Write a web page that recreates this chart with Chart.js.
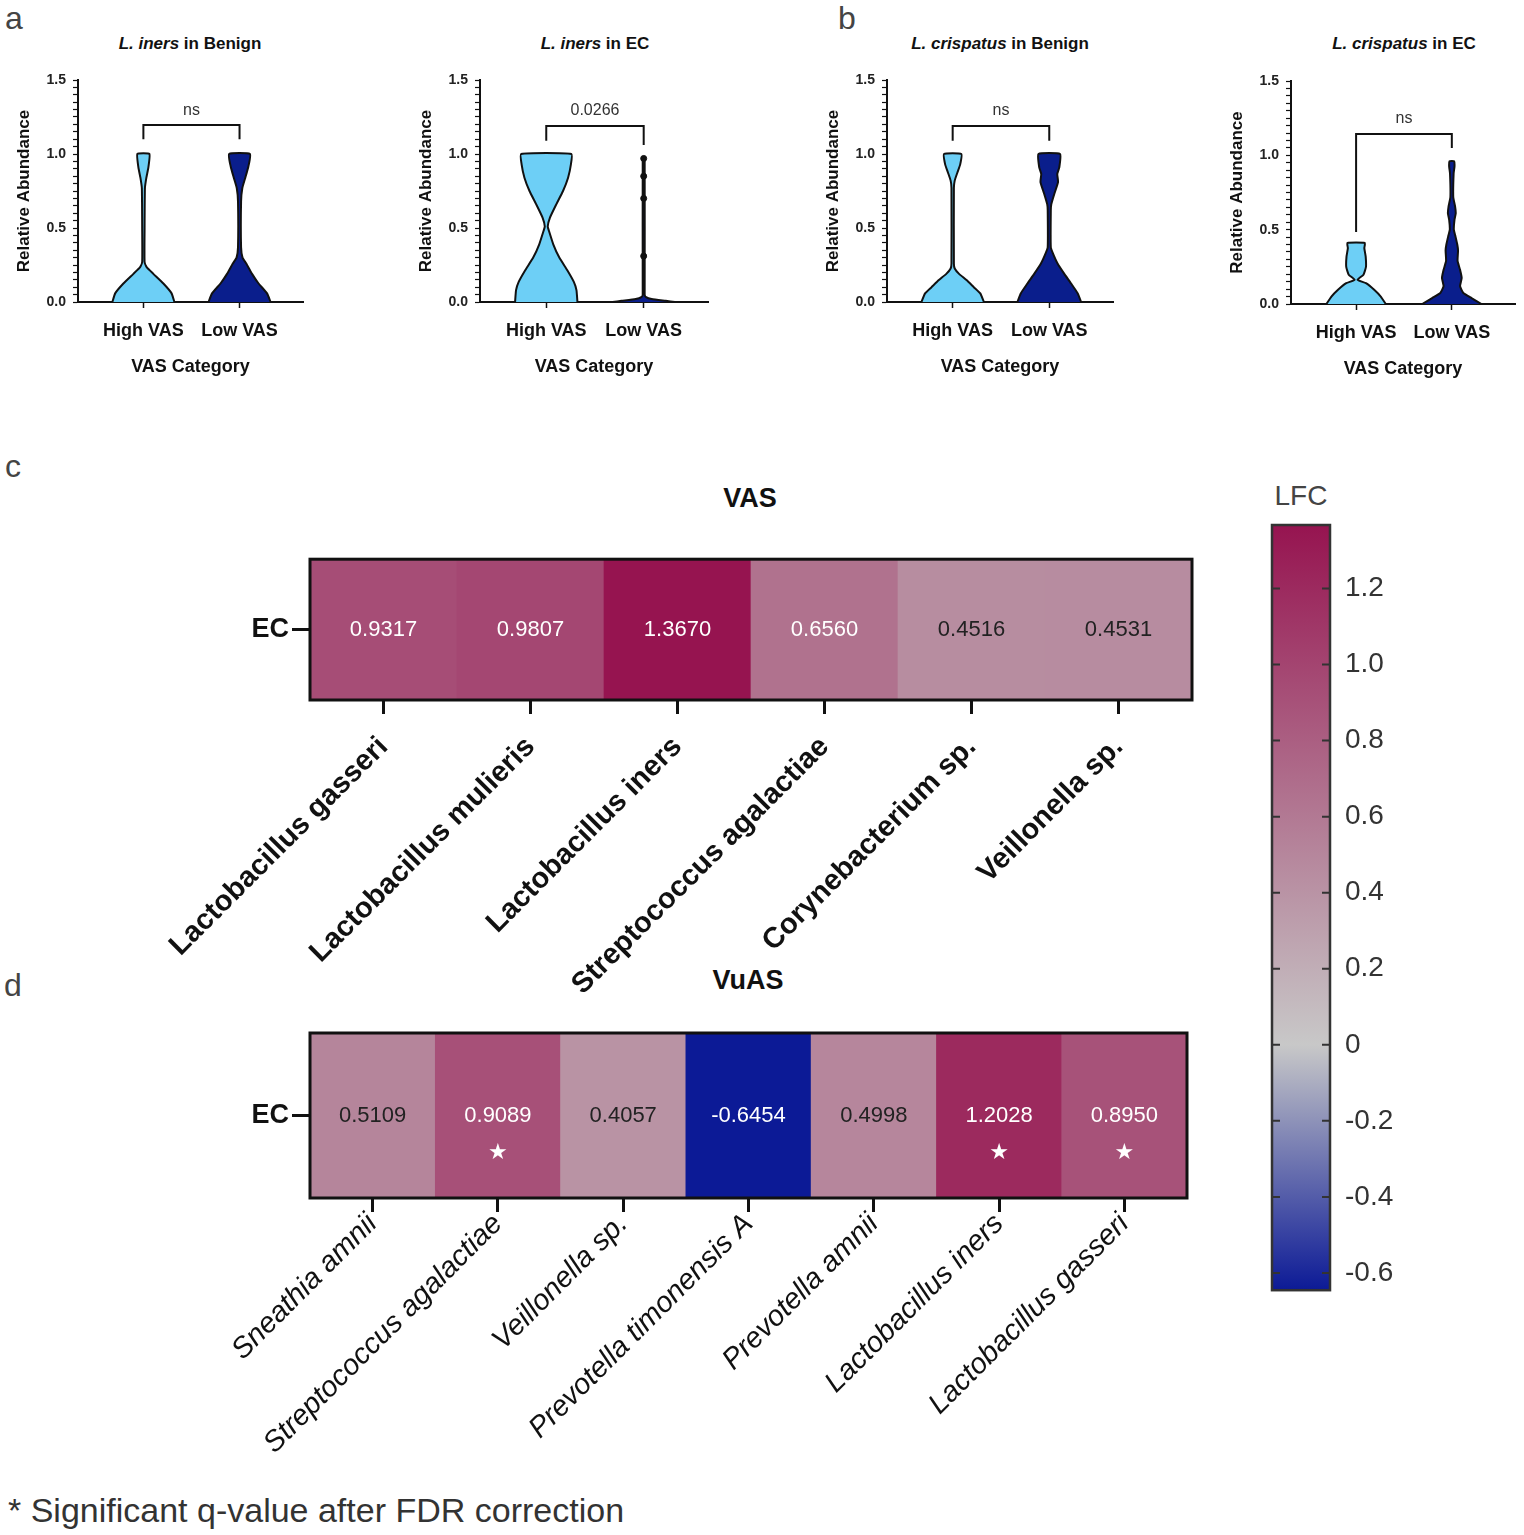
<!DOCTYPE html>
<html>
<head>
<meta charset="utf-8">
<script src="https://cdn.jsdelivr.net/npm/chart.js@4.4.0/dist/chart.umd.min.js"></script>
<style>
  body { margin: 0; background: #fff; width: 1524px; height: 1535px; position: relative; overflow: hidden;
         font-family: 'Liberation Sans', Arial, sans-serif; color: #111; }
  canvas { position: absolute; }
  .t { position: absolute; transform: translate(-50%, -50%); white-space: nowrap; }
  .letter { font-size: 32px; color: #444; }
  .vt { font-size: 17px; font-weight: bold; }
  .ht { font-size: 27px; font-weight: bold; }
</style>
</head>
<body>
<div class="t letter" style="left:14px;top:18px">a</div>
<div class="t letter" style="left:847px;top:18px">b</div>
<div class="t letter" style="left:13px;top:466px">c</div>
<div class="t letter" style="left:13px;top:985px">d</div>

<div class="t vt" style="left:190px;top:44px"><i>L. iners</i> in Benign</div>
<div class="t vt" style="left:595px;top:44px"><i>L. iners</i> in EC</div>
<div class="t vt" style="left:1000px;top:44px"><i>L. crispatus</i> in Benign</div>
<div class="t vt" style="left:1404px;top:44px"><i>L. crispatus</i> in EC</div>

<div class="t ht" style="left:750px;top:498px">VAS</div>
<div class="t ht" style="left:748px;top:980px">VuAS</div>
<div class="t" style="left:1301px;top:496px;font-size:28px;color:#444">LFC</div>
<div style="position:absolute;left:8px;top:1510px;transform:translateY(-50%);font-size:34px;color:#333;white-space:nowrap">* Significant q-value after FDR correction</div>

<script>
// ---- violin data (abundance level -> half width of the violin, x units) ----
const vasCats = ['High VAS', 'Low VAS'];
const abundanceTickLabels = [0, 0.5, 1.0, 1.5];

const inersBenignHighY = [0, 0.06, 0.125, 0.19, 0.235, 0.27, 0.5, 0.77, 0.84, 0.91, 1.0];
const inersBenignHighW = [0.323, 0.292, 0.208, 0.104, 0.034, 0.0125, 0.0125, 0.016, 0.031, 0.052, 0.0625];
const inersBenignLowY = [0, 0.058, 0.125, 0.19, 0.26, 0.30, 0.37, 0.68, 0.77, 0.84, 0.91, 1.0];
const inersBenignLowW = [0.323, 0.286, 0.198, 0.13, 0.07, 0.031, 0.016, 0.016, 0.029, 0.06, 0.09, 0.109];

const inersEcHighY = [0, 0.08, 0.136, 0.215, 0.3, 0.39, 0.48, 0.51, 0.57, 0.66, 0.75, 0.84, 0.93, 1.0];
const inersEcHighW = [0.32, 0.31, 0.283, 0.216, 0.134, 0.072, 0.028, 0.015, 0.038, 0.103, 0.172, 0.224, 0.253, 0.258];
const inersEcLowY = [0, 0.008, 0.02, 0.035, 0.05, 0.97];
const inersEcLowW = [0.32, 0.227, 0.082, 0.02, 0.01, 0.01];
const inersEcLowPoints = [0.31, 0.70, 0.85, 0.97];
const inersEcHighMedian = 0.134;
const inersEcHighQ3 = 0.97;

const crispBenignHighY = [0, 0.058, 0.1, 0.148, 0.19, 0.226, 0.26, 0.77, 0.82, 0.875, 0.93, 1.0];
const crispBenignHighW = [0.323, 0.286, 0.219, 0.143, 0.066, 0.021, 0.0125, 0.0125, 0.021, 0.049, 0.078, 0.09];
const crispBenignLowY = [0, 0.058, 0.125, 0.19, 0.26, 0.327, 0.37, 0.62, 0.66, 0.73, 0.81, 0.865, 0.91, 1.0];
const crispBenignLowW = [0.33, 0.295, 0.226, 0.156, 0.086, 0.039, 0.016, 0.016, 0.021, 0.052, 0.091, 0.083, 0.104, 0.1125];

const crispEcHighY = [0, 0.05, 0.096, 0.14, 0.163, 0.197, 0.25, 0.32, 0.376, 0.41];
const crispEcHighW = [0.31, 0.258, 0.189, 0.103, 0.015, 0.077, 0.103, 0.1, 0.086, 0.091];
const crispEcLowY = [0, 0.04, 0.074, 0.12, 0.175, 0.23, 0.29, 0.36, 0.4, 0.455, 0.5, 0.567, 0.61, 0.657, 0.72, 0.88, 0.925, 0.96];
const crispEcLowW = [0.31, 0.206, 0.12, 0.086, 0.103, 0.086, 0.06, 0.065, 0.057, 0.038, 0.021, 0.028, 0.041, 0.034, 0.015, 0.019, 0.028, 0.024];

// brackets: [left leg end, bar level, right leg end], test label and its level
const inersBenignBracket = [1.10, 1.196, 1.10];
const inersEcBracket = [1.09, 1.19, 1.06];
const crispBenignBracket = [1.09, 1.19, 1.09];
const crispEcBracket = [0.484, 1.143, 1.05];
const statLabels = ['ns', '0.0266', 'ns', 'ns'];
const statLevels = [1.29, 1.29, 1.29, 1.25];

// ---- heatmap data ----
const rowLabels = ['EC'];
const vasTaxa = ['Lactobacillus gasseri', 'Lactobacillus mulieris', 'Lactobacillus iners',
                 'Streptococcus agalactiae', 'Corynebacterium sp.', 'Veillonella sp.'];
const vasLfc = [0.9317, 0.9807, 1.3670, 0.6560, 0.4516, 0.4531];
const vuasTaxa = ['Sneathia amnii', 'Streptococcus agalactiae', 'Veillonella sp.', 'Prevotella timonensis A',
                  'Prevotella amnii', 'Lactobacillus iners', 'Lactobacillus gasseri'];
const vuasLfc = [0.5109, 0.9089, 0.4057, -0.6454, 0.4998, 1.2028, 0.8950];
const vuasSignificant = [false, true, false, false, false, true, true];
const lfcTicks = [-0.6, -0.4, -0.2, 0, 0.2, 0.4, 0.6, 0.8, 1.0, 1.2];

const lfcMax = Math.max(...vasLfc, ...vuasLfc);
const lfcMin = Math.min(...vasLfc, ...vuasLfc);

const LIGHT = '#6dcff6';
const DARK = '#0a1e8c';
const FONT = "'Liberation Sans', Arial, sans-serif";

Chart.defaults.font.family = FONT;
Chart.defaults.color = '#111';
Chart.defaults.animation = false;
Chart.defaults.plugins.legend.display = false;
Chart.defaults.plugins.tooltip.enabled = false;

function addCanvas(left, top, w, h) {
    const c = document.createElement('canvas');
    c.width = w;
    c.height = h;
    c.style.left = left + 'px';
    c.style.top = top + 'px';
    document.body.appendChild(c);
    return c;
}

function mix(a, b, t) {
    return 'rgb(' + a.map((v, i) => Math.round(v + (b[i] - v) * t)).join(',') + ')';
}

function lfcColor(v) {
    const lo = [12, 26, 150], mid = [200, 200, 200], hi = [150, 20, 80];
    if (v >= 0) return mix(mid, hi, v / lfcMax);
    return mix(mid, lo, v / lfcMin);
}

function outline(center, ys, ws) {
    let pts = [];
    for (let i = 0; i < ys.length; i++) pts.push({x: center - ws[i], y: ys[i]});
    for (let i = ys.length - 1; i >= 0; i--) pts.push({x: center + ws[i], y: ys[i]});
    return pts;
}

const statText = {
    id: 'statText',
    afterDatasetsDraw(chart, args, o) {
        const {ctx, scales: {x, y}} = chart;
        ctx.save();
        ctx.font = '16px ' + FONT;
        ctx.fillStyle = '#333';
        ctx.textAlign = 'center';
        ctx.textBaseline = 'middle';
        ctx.fillText(o.text, x.getPixelForValue(1.5), y.getPixelForValue(o.y));
        ctx.restore();
    }
};

function violin(p) {
    const left = p.axisLeft - 66, top = p.axisTop - 20;
    const cv = addCanvas(left, top, p.axisRight - p.axisLeft + 75, p.axisBottom - p.axisTop + 108);
    let datasets = [
        {data: outline(1, p.highY, p.highW), fill: 'shape', backgroundColor: LIGHT, borderColor: '#111', borderWidth: 2, tension: 0.15},
        {data: outline(2, p.lowY, p.lowW), fill: 'shape', backgroundColor: DARK, borderColor: '#111', borderWidth: 2, tension: 0.15},
        {data: [{x: 1, y: p.bracket[0]}, {x: 1, y: p.bracket[1]}, {x: 2, y: p.bracket[1]}, {x: 2, y: p.bracket[2]}],
         fill: false, borderColor: '#111', borderWidth: 2, tension: 0}
    ];
    (p.extra || []).forEach(d => datasets.push(d));
    new Chart(cv, {
        type: 'line',
        data: {datasets: datasets},
        options: {
            responsive: false,
            layout: {padding: {top: 20, right: 9, bottom: 8, left: 0}},
            elements: {point: {radius: 0}},
            plugins: {statText: {text: p.stat, y: p.statY}},
            scales: {
                x: {
                    type: 'linear', min: 0.32, max: 2.66,
                    afterBuildTicks: s => { s.ticks = [{value: 1}, {value: 2}]; },
                    afterFit: s => { s.height = 80; },
                    ticks: {callback: v => vasCats[v - 1], color: '#111', font: {size: 18, weight: 'bold'},
                            padding: 12, autoSkip: false, maxRotation: 0},
                    grid: {drawOnChartArea: false, tickLength: 6, tickWidth: 1.5, tickColor: '#111'},
                    border: {color: '#111', width: 2},
                    title: {display: true, text: 'VAS Category', color: '#111', font: {size: 18, weight: 'bold'}}
                },
                y: {
                    type: 'linear', min: 0, max: 1.5,
                    afterFit: s => { s.width = 66; },
                    ticks: {
                        stepSize: 0.05, autoSkip: false, color: '#222', padding: 7,
                        font: {size: 14, weight: 'bold'},
                        callback: v => {
                            const hit = abundanceTickLabels.find(t => Math.abs(t - v) < 1e-6);
                            return hit === undefined ? '' : hit.toFixed(1);
                        }
                    },
                    grid: {drawOnChartArea: false, tickLength: 5, tickWidth: 1.2, tickColor: '#111'},
                    border: {color: '#111', width: 2},
                    title: {display: true, text: 'Relative Abundance', color: '#111', font: {size: 17, weight: 'bold'},
                            padding: {top: 2, bottom: 4}}
                }
            }
        },
        plugins: [statText]
    });
}

violin({axisLeft: 78, axisRight: 303, axisTop: 80, axisBottom: 302,
        highY: inersBenignHighY, highW: inersBenignHighW, lowY: inersBenignLowY, lowW: inersBenignLowW,
        bracket: inersBenignBracket, stat: statLabels[0], statY: statLevels[0]});

violin({axisLeft: 480, axisRight: 708, axisTop: 80, axisBottom: 302,
        highY: inersEcHighY, highW: inersEcHighW, lowY: inersEcLowY, lowW: inersEcLowW,
        bracket: inersEcBracket, stat: statLabels[1], statY: statLevels[1],
        extra: [
            {data: [{x: 0.73, y: inersEcHighMedian}, {x: 1.27, y: inersEcHighMedian}], borderColor: '#111',
             borderWidth: 1.5, borderDash: [6, 4], fill: false},
            {data: [{x: 0.75, y: inersEcHighQ3}, {x: 1.25, y: inersEcHighQ3}], borderColor: '#111',
             borderWidth: 1.2, borderDash: [2, 3], fill: false},
            {data: inersEcLowPoints.map(v => ({x: 2, y: v})), showLine: false, pointRadius: 3,
             pointBackgroundColor: '#111', pointBorderColor: '#111'}
        ]});

violin({axisLeft: 887, axisRight: 1113, axisTop: 80, axisBottom: 302,
        highY: crispBenignHighY, highW: crispBenignHighW, lowY: crispBenignLowY, lowW: crispBenignLowW,
        bracket: crispBenignBracket, stat: statLabels[2], statY: statLevels[2]});

violin({axisLeft: 1291, axisRight: 1515, axisTop: 81, axisBottom: 304,
        highY: crispEcHighY, highW: crispEcHighW, lowY: crispEcLowY, lowW: crispEcLowW,
        bracket: crispEcBracket, stat: statLabels[3], statY: statLevels[3]});

// ---- heatmaps ----
const cellLabels = {
    id: 'cellLabels',
    afterDatasetsDraw(chart, args, o) {
        const {ctx} = chart;
        const a = chart.chartArea;
        const yMid = chart.scales.y.getPixelForValue(0.5);
        ctx.save();
        ctx.textAlign = 'center';
        ctx.textBaseline = 'middle';
        chart.getDatasetMeta(0).data.forEach((bar, i) => {
            const v = o.values[i];
            ctx.fillStyle = (v > 0.6 || v < -0.2) ? '#fff' : '#222';
            ctx.font = '22px ' + FONT;
            ctx.fillText(v.toFixed(4), bar.x, yMid);
            if (o.sig && o.sig[i]) {
                ctx.fillStyle = '#fff';
                ctx.font = "22px 'DejaVu Sans', sans-serif";
                ctx.fillText('\u2605', bar.x, yMid + 38);
            }
        });
        ctx.lineWidth = 3;
        ctx.strokeStyle = '#111';
        ctx.strokeRect(a.left, a.top, a.right - a.left, a.bottom - a.top);
        ctx.restore();
    }
};

function heatmap(p) {
    const cv = addCanvas(140, p.top, 1070, p.height);
    new Chart(cv, {
        type: 'bar',
        data: {
            labels: p.taxa,
            datasets: [{
                data: p.lfc.map(() => [0, 1]),
                backgroundColor: p.lfc.map(lfcColor),
                borderWidth: 0, barPercentage: 1, categoryPercentage: 1
            }]
        },
        options: {
            responsive: false,
            layout: {padding: {top: p.padTop, right: p.padRight, left: 0, bottom: 0}},
            plugins: {cellLabels: {values: p.lfc, sig: p.sig}},
            scales: {
                x: {
                    afterFit: s => { s.height = p.xHeight; },
                    grid: {offset: false, drawOnChartArea: false, tickLength: 14, tickWidth: 3, tickColor: '#111'},
                    border: {display: false},
                    ticks: {autoSkip: false, minRotation: 45, maxRotation: 45, color: '#111',
                            font: p.labelFont, padding: p.labelPad, labelOffset: 0}
                },
                y: {
                    min: 0, max: 1,
                    afterFit: s => { s.width = 170; },
                    afterBuildTicks: s => { s.ticks = [{value: 0.5}]; },
                    ticks: {callback: () => rowLabels[0], color: '#111', font: {size: 27, weight: 'bold'}, padding: 3},
                    grid: {drawOnChartArea: false, tickLength: 18, tickWidth: 3, tickColor: '#111'},
                    border: {display: false}
                }
            }
        },
        plugins: [cellLabels]
    });
}

heatmap({top: 540, height: 470, padTop: 18, padRight: 18, xHeight: 310, labelPad: 16,
         taxa: vasTaxa, lfc: vasLfc, sig: null, labelFont: {size: 29, weight: 'bold'}});
heatmap({top: 1010, height: 470, padTop: 23, padRight: 23, xHeight: 282, labelPad: -5,
         taxa: vuasTaxa, lfc: vuasLfc, sig: vuasSignificant, labelFont: {size: 29, style: 'italic'}});

// ---- colour bar ----
const barFrame = {
    id: 'barFrame',
    afterDatasetsDraw(chart) {
        const {ctx} = chart;
        const a = chart.chartArea;
        const y = chart.scales.y;
        ctx.save();
        ctx.strokeStyle = '#333';
        ctx.lineWidth = 2;
        lfcTicks.forEach(v => {
            const py = y.getPixelForValue(v);
            ctx.beginPath();
            ctx.moveTo(a.left, py); ctx.lineTo(a.left + 8, py);
            ctx.moveTo(a.right - 8, py); ctx.lineTo(a.right, py);
            ctx.stroke();
        });
        ctx.lineWidth = 2.5;
        ctx.strokeRect(a.left, a.top, a.right - a.left, a.bottom - a.top);
        ctx.restore();
    }
};

new Chart(addCanvas(1240, 480, 284, 842), {
    type: 'bar',
    data: {
        labels: ['LFC'],
        datasets: [{
            data: [[lfcMin, lfcMax]],
            borderWidth: 0, barPercentage: 1, categoryPercentage: 1,
            backgroundColor: c => {
                const chart = c.chart;
                const y = chart.scales.y;
                if (!chart.chartArea || !y) return '#ccc';
                const g = chart.ctx.createLinearGradient(0, y.getPixelForValue(lfcMin), 0, y.getPixelForValue(lfcMax));
                g.addColorStop(0, lfcColor(lfcMin));
                g.addColorStop((0 - lfcMin) / (lfcMax - lfcMin), lfcColor(0));
                g.addColorStop(1, lfcColor(lfcMax));
                return g;
            }
        }]
    },
    options: {
        responsive: false,
        layout: {padding: {top: 45, left: 32, bottom: 8, right: 0}},
        scales: {
            x: {display: false},
            y: {
                position: 'right', min: lfcMin, max: lfcMax,
                afterFit: s => { s.width = 194; },
                afterBuildTicks: s => { s.ticks = lfcTicks.map(v => ({value: v})); },
                ticks: {callback: v => v === 0 ? '0' : v.toFixed(1), color: '#333', font: {size: 28}, padding: 15},
                grid: {display: false, drawTicks: false},
                border: {display: false}
            }
        }
    },
    plugins: [barFrame]
});
</script>
</body>
</html>
